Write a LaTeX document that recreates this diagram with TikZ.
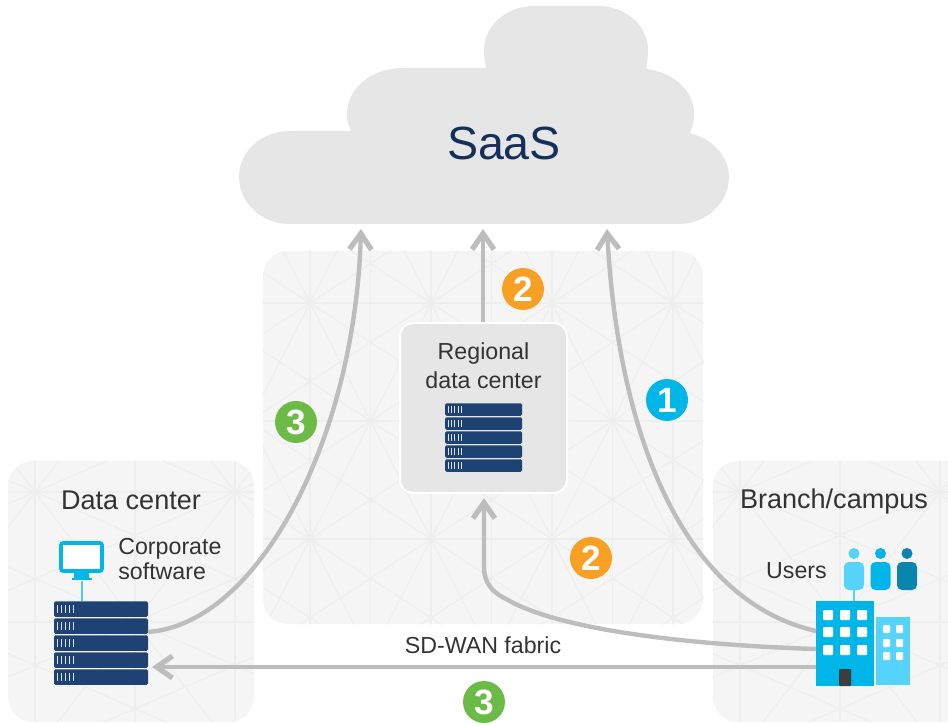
\documentclass[tikz,border=0pt]{standalone}
\usepackage{fontspec}
\setmainfont{Liberation Sans}
\usetikzlibrary{arrows.meta}
\def\px{0.02cm}
\definecolor{panelgray}{HTML}{F5F5F5}
\definecolor{meshgray}{HTML}{EEEEEE}
\definecolor{cloudgray}{HTML}{E6E6E6}
\definecolor{arrowgray}{HTML}{BDBDBD}
\definecolor{textgray}{HTML}{333333}
\definecolor{rackblue}{HTML}{1E4273}
\definecolor{saasblue}{HTML}{14305A}
\definecolor{ciscoblue}{HTML}{00B5E8}
\definecolor{lightblue}{HTML}{55D3FB}
\definecolor{darkblue}{HTML}{0A85AD}
\definecolor{badgeorange}{HTML}{F8A024}
\definecolor{badgegreen}{HTML}{6CBB46}
% mesh behind a panel: panel, x0, y0, dx, dy
\newcommand{\MeshLines}[5]{
  \begin{scope}
    \clip[rounded corners=25*\px] (#1.south west) rectangle (#1.north east);
    \foreach \i in {-2,...,4}{
      \foreach \j in {-2,...,4}{
        \pgfmathsetmacro{\hx}{#2+#4*(\i+0.5*\j)}
        \pgfmathsetmacro{\hy}{#3+#5*\j}
        \draw[meshline] (\hx,\hy) -- ++(#4,0);
        \draw[meshline] (\hx,\hy) -- ++(0,2*#5);
        \draw[meshline] (\hx,\hy) -- ++(0.5*#4,#5);
        \draw[meshline] (\hx,\hy) -- ++(-0.5*#4,#5);
        \draw[meshline] (\hx,\hy) -- ++(1.5*#4,#5);
        \draw[meshline] (\hx,\hy) -- ++(-1.5*#4,#5);
      }
    }
  \end{scope}
}
% server stack: name, x, y of first bar, width, height, pitch, tick gap
\newcommand{\RackStack}[7]{
  \foreach \n in {1,...,5}{
    \node[rackbar,minimum width=#4*\px,minimum height=#5*\px] (#1\n) at (#2,#3+#6*\n-#6) {};
    \foreach \k in {1,...,5}
      \draw[rackticks] ([xshift=#7*\k*\px,yshift=0.25*#5*\px]#1\n.west) -- ([xshift=#7*\k*\px,yshift=-0.25*#5*\px]#1\n.west);
  }
}
\begin{document}
\begin{tikzpicture}[x=\px,y=-\px]
  \tikzstyle{panel}=[fill=panelgray,inner sep=0,rounded corners=25*\px]
  \tikzstyle{meshline}=[draw=meshgray,line width=1.2*\px]
  \tikzstyle{label}=[text=textgray,inner sep=0,align=center]
  \tikzstyle{labelbig}=[label,font=\fontsize{15.4}{18}\selectfont]
  \tikzstyle{labelsmall}=[label,font=\fontsize{13.2}{16.4}\selectfont]
  \tikzstyle{rackbar}=[fill=rackblue,inner sep=0,rounded corners=1.5*\px]
  \tikzstyle{rackticks}=[draw=white!85!rackblue,line width=1.1*\px]
  \tikzstyle{badge}=[circle,inner sep=0,minimum size=42*\px,text=white,font=\fontsize{20}{20}\selectfont\bfseries]
  \tikzstyle{flow}=[draw=arrowgray,line width=4.4*\px,-{Straight Barb[length=9pt,width=12.5pt,line width=3pt]}]
  \tikzstyle{window}=[fill=white,inner sep=0]
  \clip (0,0) rectangle (948,723);
  % panels
  \node[panel,minimum width=440*\px,minimum height=373*\px] (central) at (483,437.5) {};
  \node[panel,minimum width=246*\px,minimum height=261*\px] (dcpanel) at (131,591.5) {};
  \node[panel,minimum width=280*\px,minimum height=261*\px] (branchpanel) at (853,591.5) {};
  \MeshLines{central}{310}{303}{121}{118}
  \MeshLines{dcpanel}{35}{492}{200}{130}
  \MeshLines{branchpanel}{740}{492}{200}{130}
  % cloud
  \fill[cloudgray] (290,224)
    .. controls (262,224) and (239,203) .. (239,177)
    .. controls (239,151) and (262,131) .. (290,131)
    -- (351,131)
    .. controls (348,125) and (347,120) .. (347,114)
    .. controls (347,88) and (372,68) .. (403,68)
    -- (486,68)
    .. controls (485,62) and (484,56) .. (484,50)
    .. controls (484,26) and (506,6) .. (534,6)
    -- (598,6)
    .. controls (626,6) and (648,26) .. (648,50)
    .. controls (648,56) and (647,62) .. (646,69)
    .. controls (673,72) and (694,90) .. (694,114)
    .. controls (694,120) and (693,127) .. (690,133)
    .. controls (713,139) and (729,157) .. (729,177)
    .. controls (729,203) and (706,224) .. (678,224)
    -- cycle;
  \node[text=saasblue,inner sep=0,font=\fontsize{26.5}{30}\selectfont] (saas) at (504,143) {SaaS};
  \coordinate (saasleft) at (361,229);
  \coordinate (saasmid) at (483,229);
  \coordinate (saasright) at (607,229);
  % regional data center
  \node[panel,fill=cloudgray,draw=white,line width=2*\px,rounded corners=13*\px,minimum width=167*\px,minimum height=170*\px] (regional) at (483.5,408) {};
  \node[labelsmall] (regionaltext) at (483.5,366) {Regional\\data center};
  \RackStack{regrack}{483.5}{409.5}{77}{12.5}{14}{3.4}
  % data center
  \node[labelbig] (dctext) at (131,500) {Data center};
  \node[labelsmall,align=left,anchor=west,font=\fontsize{13.2}{14.2}\selectfont] (softtext) at (118,559) {Corporate\\software};
  \node[fill=white,draw=ciscoblue,line width=3.6*\px,rounded corners=2*\px,inner sep=0,minimum width=41*\px,minimum height=28*\px] (monitor) at (81.5,557) {};
  \node[fill=ciscoblue,inner sep=0,minimum width=15*\px,minimum height=7*\px] (stand) at (81.5,575) {};
  \node[fill=ciscoblue,inner sep=0,minimum width=20*\px,minimum height=2.5*\px] (foot) at (81.5,579) {};
  \RackStack{dcrack}{101}{609}{94}{15.5}{17}{4}
  \draw[draw=ciscoblue!70,line width=2*\px] (foot.south) -- (dcrack1.north -| foot.south);
  % branch
  \node[labelbig] (branchtext) at (834,502) {Branch/campus};
  \node[labelsmall] (userstext) at (796.5,571) {Users};
  \node[fill=ciscoblue,inner sep=0,minimum width=58*\px,minimum height=85*\px] (tower) at (845,643.5) {};
  \node[fill=lightblue,inner sep=0,minimum width=34*\px,minimum height=68*\px] (annex) at (893,651) {};
  \node[fill=textgray!95,inner sep=0,rounded corners=1*\px,minimum width=12*\px,minimum height=17*\px] (door) at (845,677.5) {};
  \foreach \wx in {828,845,862}
    \foreach \wy in {615,632,650}
      \node[window,rounded corners=1*\px,minimum width=10*\px,minimum height=10*\px] (w\wx\wy) at (\wx,\wy) {};
  \foreach \wx in {886.5,899.5}
    \foreach \wy in {629,643,656}
      \node[window,rounded corners=1*\px,minimum width=7*\px,minimum height=8*\px] (a\wx\wy) at (\wx,\wy) {};
  \foreach \ux/\ucol/\uname in {854/lightblue/one,880.5/ciscoblue/two,907/darkblue/three}{
    \node[circle,fill=\ucol,inner sep=0,minimum size=11*\px] (head\uname) at (\ux,553.5) {};
    \node[fill=\ucol,inner sep=0,rounded corners=5*\px,minimum width=20*\px,minimum height=28*\px] (body\uname) at (\ux,576) {};
  }
  \draw[draw=lightblue,line width=1.6*\px] (bodyone.south) -- (bodyone.south |- tower.north);
  % connectors
  \coordinate (towerone) at (816,631);
  \coordinate (towertwo) at (816,649);
  \coordinate (towerthree) at (816,667);
  \coordinate (stackout) at (148,632);
  \coordinate (stackin) at (152,667);
  \coordinate (regin) at (484,498);
  \draw[flow] (towerone) .. controls (680,600) and (618,430) .. (saasright);
  \draw[flow] (regional.north -| saasmid) -- (saasmid);
  \draw[flow] (stackout) .. controls (258,624) and (355,440) .. (saasleft);
  \draw[flow] (towerthree) -- (stackin);
  \draw[flow] (towertwo) .. controls (690,645) and (560,630) .. (508,600) .. controls (493,593) and (484,584) .. (484,566) -- (regin);
  \node[labelsmall] (fabric) at (483,645) {SD-WAN fabric};
  % badges
  \node[badge,fill=ciscoblue] (badgeone) at (667,400) {1};
  \node[badge,fill=badgeorange] (badgetwoup) at (523,289) {2};
  \node[badge,fill=badgeorange] (badgetwodown) at (591,558) {2};
  \node[badge,fill=badgegreen] (badgethreeleft) at (296,422) {3};
  \node[badge,fill=badgegreen] (badgethreedown) at (484,702) {3};
\end{tikzpicture}
\end{document}
